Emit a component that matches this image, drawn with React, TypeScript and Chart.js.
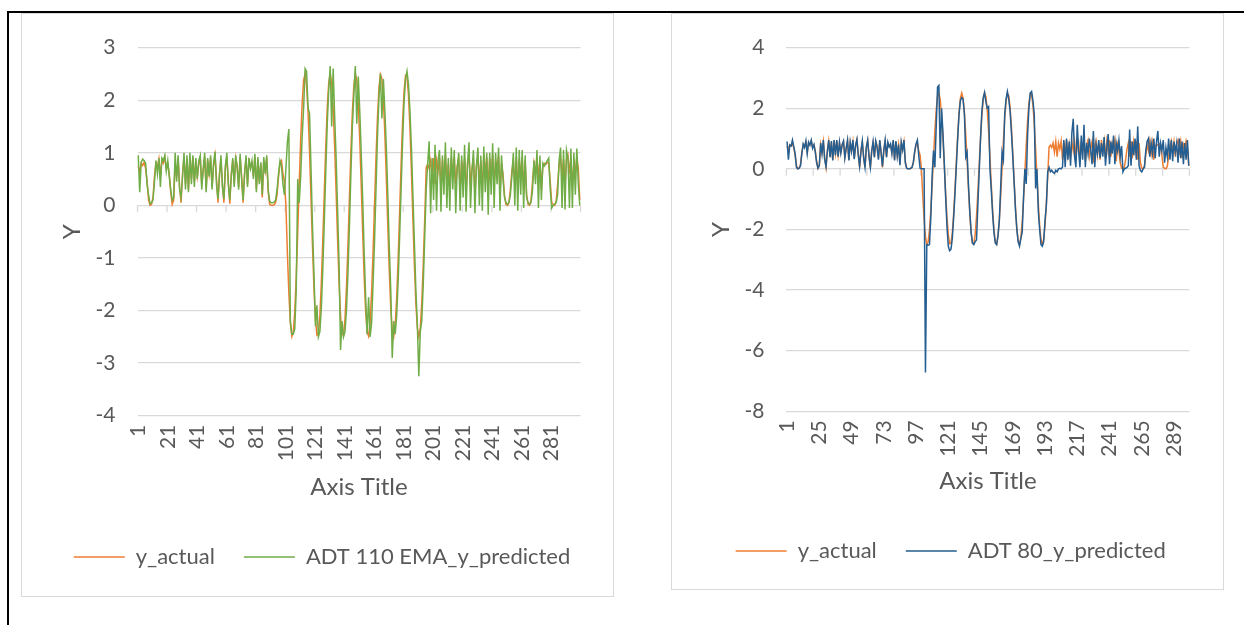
import React, { useEffect, useRef } from 'react';
import { Chart, registerables } from 'chart.js';

Chart.register(...registerables);

// ---------------- data ----------------
const categories: string[] = Array.from({ length: 300 }, (_, i) => String(i + 1));

const yActual: number[] = [
  0.75, 0.62, 0.80, 0.76, 0.82, 0.70, 0.45, 0.10, 0.00, 0.02,
  0.15, 0.55, 0.80, 0.72, 0.88, 0.55, 0.85, 0.80, 0.92, 0.70,
  0.78, 0.60, 0.25, 0.02, 0.10, 0.80, 0.55, 0.90, 0.35, 0.05,
  0.60, 0.92, 0.40, 0.88, 0.30, 0.90, 0.50, 0.92, 0.45, 0.85,
  0.55, 0.78, 0.90, 0.40, 0.65, 0.92, 0.30, 0.85, 0.60, 0.90,
  0.35, 0.75, 0.95, 0.50, 0.05, 0.60, 0.88, 0.40, 0.05, 0.70,
  0.92, 0.45, 0.03, 0.60, 0.85, 0.40, 0.90, 0.75, 0.35, 0.92,
  0.55, 0.05, 0.62, 0.90, 0.40, 0.85, 0.75, 0.80, 0.55, 0.92,
  0.30, 0.88, 0.45, 0.78, 0.15, 0.85, 0.65, 0.90, 0.25, 0.02,
  0.00, 0.00, 0.01, 0.05, 0.20, 0.55, 0.80, 0.85, 0.60, 0.45,
  0.00, -0.90, -1.67, -2.23, -2.49, -2.41, -2.02, -1.36, -0.52, 0.39,
  1.25, 1.94, 2.38, 2.50, 2.28, 1.77, 1.02, 0.13, -0.77, -1.57,
  -2.17, -2.47, -2.45, -2.10, -1.47, -0.65, 0.26, 1.13, 1.86, 2.33,
  2.50, 2.33, 1.86, 1.13, 0.26, -0.65, -1.47, -2.10, -2.45, -2.47,
  -2.17, -1.57, -0.77, 0.13, 1.02, 1.77, 2.28, 2.50, 2.38, 1.94,
  1.25, 0.39, -0.52, -1.36, -2.02, -2.41, -2.49, -2.23, -1.67, -0.90,
  0.00, 0.90, 1.67, 2.23, 2.49, 2.41, 2.02, 1.36, 0.52, -0.39,
  -1.25, -1.94, -2.38, -2.50, -2.28, -1.77, -1.02, -0.13, 0.77, 1.57,
  2.17, 2.47, 2.45, 2.10, 1.47, 0.65, -0.26, -1.13, -1.86, -2.33,
  -2.50, -2.33, -1.86, -1.13, -0.26, 0.72, 0.78, 0.70, 0.85, 0.55,
  0.90, 0.40, 0.85, 0.65, 0.92, 0.30, 0.88, 0.50, 0.95, 0.45,
  0.80, 0.35, 0.90, 0.60, 0.92, 0.40, 0.75, 0.88, 0.30, 0.85,
  0.55, 0.90, 0.25, 0.80, 0.95, 0.40, 0.70, 0.90, 0.20, 0.75,
  0.92, 0.45, 0.85, 0.30, 0.95, 0.60, 0.92, 0.35, 0.90, 0.55,
  0.95, 0.40, 0.85, 0.70, 0.95, 0.25, 0.80, 0.60, 0.20, 0.02,
  0.00, 0.05, 0.30, 0.65, 0.85, 0.40, 0.92, 0.35, 0.88, 0.55,
  0.92, 0.30, 0.85, 0.20, 0.02, 0.00, 0.10, 0.45, 0.80, 0.60,
  0.92, 0.50, 0.85, 0.30, 0.75, 0.80, 0.78, 0.82, 0.80, 0.45,
  0.05, 0.02, 0.00, 0.08, 0.40, 0.75, 0.92, 0.55, 0.88, 0.40,
  0.85, 0.95, 0.60, 0.90, 0.35, 0.80, 0.65, 0.92, 0.70, 0.10,
];

const adt110EmaPredicted: number[] = [
  0.95, 0.25, 0.82, 0.88, 0.85, 0.80, 0.40, 0.20, 0.03, 0.05,
  0.10, 0.45, 0.85, 0.60, 0.90, 0.35, 0.90, 0.85, 0.95, 0.65,
  0.85, 0.55, 0.30, 0.10, 0.15, 1.00, 0.45, 0.95, 0.30, 0.15,
  0.55, 1.00, 0.30, 0.95, 0.25, 1.00, 0.40, 0.95, 0.35, 0.90,
  0.50, 0.85, 0.95, 0.30, 0.70, 1.00, 0.25, 0.90, 0.55, 0.95,
  0.30, 0.80, 1.02, 0.40, 0.12, 0.55, 0.95, 0.35, 0.12, 0.75,
  1.00, 0.40, 0.10, 0.55, 0.90, 0.35, 0.95, 0.70, 0.30, 0.98,
  0.50, 0.10, 0.58, 0.95, 0.35, 0.90, 0.70, 0.85, 0.50, 0.98,
  0.25, 0.92, 0.40, 0.82, 0.20, 0.92, 0.60, 0.95, 0.30, 0.08,
  0.05, 0.05, 0.06, 0.10, 0.30, 0.60, 0.85, 0.75, 0.40, 0.20,
  0.70, 1.20, 1.45, -2.20, -2.45, -2.45, -2.35, -1.60, 0.50, 0.05,
  0.55, 1.30, 1.85, 2.60, 2.55, 1.85, 1.75, 0.70, -0.40, -1.30,
  -2.30, -1.90, -2.50, -2.40, -1.95, -1.20, -0.30, 0.65, 1.55, 2.20,
  2.65, 1.50, 2.60, 1.70, 0.90, -0.10, -1.10, -2.75, -2.20, -2.50,
  -2.40, -2.00, -1.30, -0.40, 0.60, 1.50, 2.10, 2.65, 1.55, 2.45,
  1.80, 1.00, 0.10, -0.90, -1.75, -2.45, -1.75, -2.50, -2.25, -1.50,
  -0.70, 0.30, 1.30, 2.05, 2.50, 1.65, 2.40, 1.80, 1.10, 0.20,
  -0.80, -1.60, -2.90, -2.20, -2.45, -2.10, -1.45, -0.60, 0.30, 1.20,
  1.95, 2.40, 2.55, 2.30, 1.80, 1.10, 0.20, -0.70, -1.60, -2.25,
  -3.25, -2.40, -2.20, -1.50, -0.60, 0.30, 0.80, 1.22, -0.15, 0.90,
  0.10, 1.15, -0.10, 0.85, 1.05, -0.12, 0.95, 0.20, 1.20, -0.05,
  0.90, -0.10, 1.10, 0.30, 1.05, -0.15, 0.70, 1.00, -0.10, 0.95,
  0.15, 1.15, -0.12, 0.80, 1.20, -0.05, 0.65, 1.05, -0.15, 0.75,
  1.10, 0.00, 0.95, -0.10, 1.12, 0.25, 1.00, -0.18, 1.00, 0.20,
  1.18, -0.05, 1.00, 0.40, 1.10, -0.10, 0.95, 0.50, 0.15, 0.05,
  0.02, 0.05, 0.20, 0.55, 1.00, 0.00, 1.10, -0.10, 1.05, 0.20,
  1.05, -0.05, 0.95, 0.15, 0.05, 0.02, 0.05, 0.30, 0.85, 0.40,
  1.05, -0.05, 0.95, 0.10, 0.80, 0.75, 0.80, 0.85, 0.90, 0.30,
  -0.05, 0.00, 0.02, 0.05, 0.20, 0.85, 1.10, -0.05, 1.05, -0.08,
  1.05, 0.90, -0.05, 1.08, -0.05, 1.00, 0.20, 1.08, 0.40, 0.00,
];

const adt80Predicted: number[] = [
  0.90, 0.30, 0.78, 0.75, 0.95, 0.72, 0.50, 0.05, 0.00, 0.02,
  0.10, 0.50, 0.82, 0.70, 0.92, 0.50, 0.88, 0.78, 0.95, 0.68,
  0.80, 0.55, 0.20, 0.02, 0.12, 0.85, 0.50, 0.95, 0.30, 0.08,
  0.58, 0.95, 0.38, 0.92, 0.28, 0.95, 0.45, 0.95, 0.40, 0.88,
  0.52, 0.80, 0.92, 0.35, 0.68, 0.95, 0.28, 0.88, 0.58, 0.95,
  0.32, 0.78, 0.98, 0.45, 0.08, 0.58, 0.92, 0.35, 0.05, 0.72,
  0.95, 0.40, 0.05, 0.58, 0.90, 0.38, 0.92, 0.72, 0.30, 0.95,
  0.52, 0.08, 0.60, 0.95, 0.38, 0.88, 0.72, 0.82, 0.50, 0.95,
  0.28, 0.92, 0.42, 0.80, 0.12, 0.88, 0.62, 0.95, 0.20, 0.02,
  0.00, 0.00, 0.02, 0.05, 0.22, 0.58, 0.82, 0.95, 0.45, 0.02,
  0.00, 0.00, 0.00, -6.72, -2.50, -2.52, -2.50, -1.60, -0.20, 0.60,
  0.05, 1.40, 2.70, 2.75, 0.35, 2.00, 1.20, 0.20, -0.90, -1.90,
  -2.55, -2.70, -2.65, -2.30, -1.60, -0.80, 0.10, 1.00, 1.80, 2.25,
  2.35, 2.30, 1.80, 0.40, 0.55, -0.50, -1.40, -2.10, -2.45, -2.50,
  -2.40, -2.35, -1.20, -0.10, 1.00, 1.90, 2.35, 2.52, 2.20, 2.00,
  2.05, 0.00, -0.70, -1.50, -2.10, -2.45, -2.50, -2.20, -1.70, -0.60,
  0.55, 0.30, 1.80, 2.30, 2.55, 2.30, 1.90, 1.20, 0.40, -0.45,
  -1.35, -2.00, -2.40, -2.55, -2.30, -2.10, -0.95, 0.00, -0.50, 1.10,
  2.00, 2.50, 2.55, 2.25, 1.80, -0.65, 0.00, -1.40, -2.00, -2.50,
  -2.55, -2.40, -1.70, -1.20, -0.10, 0.05, -0.10, -0.05, -0.12, -0.15,
  -0.05, -0.10, 0.00, 0.02, 0.00, 0.05, 0.95, 0.05, 1.00, 0.30,
  0.90, 0.10, 1.20, 1.65, 0.40, 0.05, 1.45, 0.60, 0.05, 1.10,
  0.30, 1.45, 0.05, 0.85, 0.50, 1.00, 0.60, 0.15, 1.25, 0.05,
  0.80, 0.50, 0.95, 0.35, 0.85, 0.40, 1.05, 0.10, 0.70, 1.15,
  0.15, 0.90, 0.50, 1.10, 0.15, 0.85, 0.60, 0.95, 0.40, 0.75,
  -0.10, 0.00, 0.02, 0.05, 0.10, 1.30, 0.10, 0.90, 0.45, 1.00,
  0.30, 1.40, 0.10, -0.05, -0.10, 0.00, 0.05, 0.60, 0.90, 1.00,
  0.40, 0.85, 0.50, 1.00, 0.35, 0.90, 1.25, 0.40, 0.85, 0.60,
  0.95, 0.20, 0.70, 0.40, 1.00, 0.30, 0.95, 0.25, 0.90, 0.55,
  0.85, 0.20, 1.00, 0.35, 0.90, 0.15, 0.85, 0.30, 0.95, 0.10,
];

// axis ranges: [min, max, step]
const chart1YAxis: number[] = [-4, 3, 1];
const chart2YAxis: number[] = [-8, 4, 2];
// x tick label interval and tick-mark interval
const chart1LabelEvery = 20;
const chart2LabelEvery = 24;
const tickMarkEvery = 20;

const seriesNames: string[] = ['y_actual', 'ADT 110 EMA_y_predicted', 'ADT 80_y_predicted'];

// ---------------- styling ----------------
const TEXT = '#595959';
const GRID = '#D9D9D9';
const FONT = 'Lato, "Open Sans", sans-serif';
const ORANGE = '#ED7D31';
const GREEN = '#70AD47';
const BLUE = '#255E91';
const LEGEND_FONT = 22;
const LEGEND_PAD = 29;

const zeroAxisTicks = {
  id: 'zeroAxisTicks',
  beforeDatasetsDraw(chart: any, _args: any, opts: any) {
    const xs = chart.scales.x;
    const ys = chart.scales.y;
    const y0 = ys.getPixelForValue(0);
    const ctx = chart.ctx;
    ctx.save();
    ctx.strokeStyle = GRID;
    ctx.lineWidth = 1.3;
    ctx.beginPath();
    for (let i = 0; i <= categories.length; i += opts.every) {
      const px = xs.getPixelForValue(i - 0.5);
      ctx.moveTo(px, y0);
      ctx.lineTo(px, y0 + opts.length);
    }
    ctx.stroke();
    ctx.restore();
  },
};

type Series = { label: string; data: number[]; color: string };

type Area = { left: number; right: number; top: number; bottom: number };

type Props = {
  left: number;
  top: number;
  width: number;
  height: number;
  series: Series[];
  yAxis: number[];
  labelEvery: number;
  padLeft: number;
  yTitleX: number; // centre of the rotated Y title, canvas coords
  area: Area; // wanted plot area, canvas coords
  legendCenterY: number; // canvas coords
  xTitleY: number; // canvas coords
};

function LineChart(p: Props) {
  const ref = useRef<HTMLCanvasElement | null>(null);
  useEffect(() => {
    if (!ref.current) return;
    const n = p.series.length;
    const titleHalf = 24 * 1.2 / 2;
    const dims = {
      yw: p.area.left - p.padLeft,
      rw: p.width - p.area.right,
      xh: 100,
      padTop: p.area.top,
      padBottom: 18,
    };
    const legendTopTarget = p.legendCenterY - LEGEND_PAD - LEGEND_FONT / 2;
    const xTitlePad = legendTopTarget - p.xTitleY - titleHalf;
    const chart = new Chart(ref.current, {
      type: 'line',
      data: {
        labels: categories,
        datasets: p.series.map((s, i) => ({
          label: s.label,
          data: s.data,
          borderColor: s.color,
          backgroundColor: s.color,
          borderWidth: 1.5,
          pointRadius: 0,
          pointHoverRadius: 0,
          tension: 0,
          fill: false,
          order: n - i,
          yAxisID: 'y',
        })),
      },
      options: {
        responsive: false,
        animation: false,
        devicePixelRatio: 1,
        events: [],
        layout: { padding: { left: p.padLeft, right: 0, top: dims.padTop, bottom: dims.padBottom } },
        plugins: {
          legend: {
            position: 'bottom',
            labels: {
              usePointStyle: true,
              pointStyle: 'line',
              pointStyleWidth: 51,
              boxWidth: 51,
              padding: LEGEND_PAD,
              color: TEXT,
              font: { family: FONT, size: LEGEND_FONT },
              sort: (a: any, b: any) => a.datasetIndex - b.datasetIndex,
            },
          },
          tooltip: { enabled: false },
          zeroAxisTicks: { every: tickMarkEvery, length: 7 },
        } as any,
        scales: {
          x: {
            type: 'category',
            offset: true,
            grid: { display: false, drawTicks: false },
            border: { display: false },
            ticks: {
              autoSkip: false,
              minRotation: 90,
              maxRotation: 90,
              padding: 9,
              color: TEXT,
              font: { family: FONT, size: 21 },
              callback: (_v: any, i: number) => (i % p.labelEvery === 0 ? categories[i] : ''),
            },
            title: {
              display: true,
              text: 'Axis Title',
              color: TEXT,
              font: { family: FONT, size: 24 },
              padding: { top: 0, bottom: xTitlePad },
            },
            afterFit: (s: any) => {
              s.height = dims.xh;
            },
          },
          y: {
            position: 'left',
            min: p.yAxis[0],
            max: p.yAxis[1],
            ticks: {
              stepSize: p.yAxis[2],
              color: TEXT,
              font: { family: FONT, size: 21 },
              padding: 22,
            },
            grid: { color: GRID, lineWidth: 1.3, drawTicks: false },
            border: { display: false },
            title: {
              display: true,
              text: 'Y',
              color: TEXT,
              font: { family: FONT, size: 24 },
              padding: { top: p.yTitleX - p.padLeft - titleHalf, bottom: 0 },
            },
            afterFit: (s: any) => {
              s.width = dims.yw;
            },
          },
          spacer: {
            position: 'right',
            display: true,
            grid: { display: false, drawTicks: false },
            border: { display: false },
            ticks: { display: false },
            afterFit: (s: any) => {
              s.width = dims.rw;
            },
          },
        },
      } as any,
      plugins: [zeroAxisTicks],
    });

    // align the library's own layout onto the wanted plot area
    for (let k = 0; k < 4; k++) {
      const ca = chart.chartArea;
      const lg: any = (chart as any).legend;
      dims.padTop += p.area.top - ca.top;
      dims.yw += p.area.left - ca.left;
      dims.rw += ca.right - p.area.right;
      dims.padBottom += lg.top - legendTopTarget;
      dims.xh += ca.bottom - p.area.bottom;
      (chart.options as any).layout.padding = {
        left: p.padLeft,
        right: 0,
        top: dims.padTop,
        bottom: dims.padBottom,
      };
      chart.update();
    }
    return () => chart.destroy();
  }, []);
  return (
    <canvas
      ref={ref}
      width={p.width}
      height={p.height}
      style={{ position: 'absolute', left: p.left, top: p.top, width: p.width, height: p.height }}
    />
  );
}

export default function App() {
  return (
    <div
      style={{
        position: 'absolute',
        left: 0,
        top: 0,
        width: 1244,
        height: 625,
        background: '#ffffff',
        overflow: 'hidden',
      }}
    >
      <div style={{ position: 'absolute', left: 7, top: 11, width: 1237, height: 2, background: '#000' }} />
      <div style={{ position: 'absolute', left: 7, top: 11, width: 2, height: 614, background: '#000' }} />
      <div
        style={{
          position: 'absolute',
          left: 21,
          top: 13,
          width: 593,
          height: 584,
          border: `1px solid ${GRID}`,
          boxSizing: 'border-box',
        }}
      />
      <div
        style={{
          position: 'absolute',
          left: 671,
          top: 13,
          width: 553,
          height: 577,
          border: `1px solid ${GRID}`,
          boxSizing: 'border-box',
        }}
      />
      <LineChart
        left={22}
        top={13}
        width={592}
        height={584}
        series={[
          { label: seriesNames[0], data: yActual, color: ORANGE },
          { label: seriesNames[1], data: adt110EmaPredicted, color: GREEN },
        ]}
        yAxis={chart1YAxis}
        labelEvery={chart1LabelEvery}
        padLeft={8}
        yTitleX={50.7}
        area={{ left: 115.5, right: 562.5, top: 28.7, bottom: 402.7 }}
        legendCenterY={544}
        xTitleY={474}
      />
      <LineChart
        left={672}
        top={13}
        width={551}
        height={577}
        series={[
          { label: seriesNames[0], data: yActual, color: ORANGE },
          { label: seriesNames[2], data: adt80Predicted, color: BLUE },
        ]}
        yAxis={chart2YAxis}
        labelEvery={chart2LabelEvery}
        padLeft={6.4}
        yTitleX={48.9}
        area={{ left: 114.4, right: 521.5, top: 28.5, bottom: 398.3 }}
        legendCenterY={538}
        xTitleY={468}
      />
    </div>
  );
}
